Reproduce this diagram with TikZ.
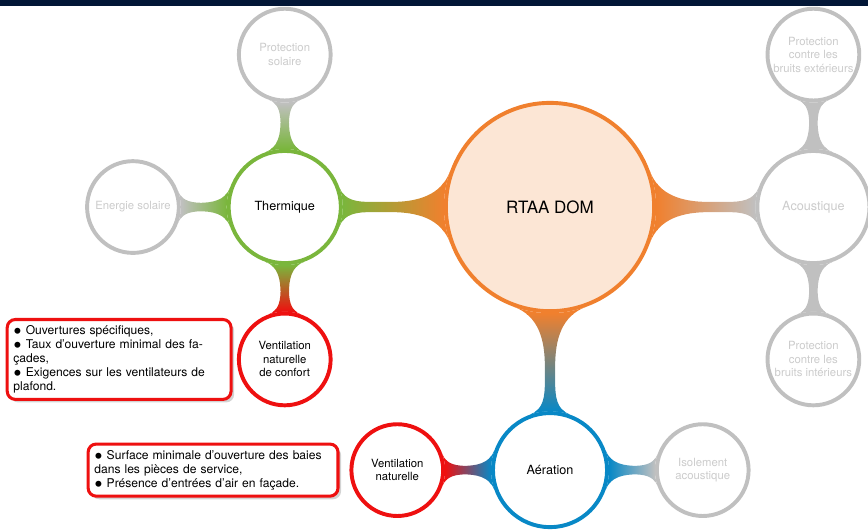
\documentclass[tikz,border=0pt]{standalone}
\usepackage{fontspec}
\setmainfont{TeX Gyre Heros}
\usepackage{amsmath}
\usetikzlibrary{mindmap,shadows,positioning}
\definecolor{rorange}{RGB}{240,128,46}
\definecolor{tgreen}{RGB}{122,182,60}
\definecolor{ablue}{RGB}{8,136,198}
\definecolor{vred}{RGB}{238,16,16}
\definecolor{offgrey}{RGB}{192,192,192}
\definecolor{offtext}{RGB}{204,204,204}
\definecolor{barnavy}{RGB}{2,22,54}
\tikzset{
	idea/.style={circle, draw=#1, fill=white, line width=1.8pt, align=center, inner sep=0pt, text=black, font=\fontsize{5.2}{6.2}\selectfont},
	bigidea/.style={idea=#1, minimum size=1.81cm, font=\fontsize{5.8}{7}\selectfont},
	smallidea/.style={idea=#1, minimum size=1.48cm},
	offidea/.style={smallidea=offgrey, text=offtext},
	notebox/.style={draw=vred, line width=1.4pt, rounded corners=0.13cm, fill=white, drop shadow={opacity=0.35, shadow xshift=0.05cm, shadow yshift=-0.05cm}, align=left, inner sep=0.1cm, font=\fontsize{5.55}{6.4}\selectfont},
}
\begin{document}
\begin{tikzpicture}[node distance=0.75cm and 0.75cm]
	\useasboundingbox (0,0) rectangle (14,-8.548);
	\node [idea=rorange, fill=rorange!20, minimum size=3.36cm, font=\fontsize{7.8}{9}\selectfont] (rtaa_node) at (8.871,-3.339) {RTAA DOM};
	\node [bigidea=tgreen, left=1.63cm of rtaa_node] (thermique_node) {Thermique};
	\node [offidea, above=of thermique_node] (solaire_node) {Protection\\solaire};
	\node [offidea, left=0.74cm of thermique_node] (energie_node) {Energie solaire};
	\node [smallidea=vred, below=of thermique_node] (confort_node) {Ventilation\\naturelle\\de confort};
	\node [bigidea=offgrey, text=offtext, right=1.6cm of rtaa_node] (acoustique_node) {Acoustique};
	\node [offidea, above=of acoustique_node] (exterieur_node) {Protection\\contre les\\bruits extérieurs};
	\node [offidea, below=of acoustique_node] (interieur_node) {Protection\\contre les\\bruits intérieurs};
	\node [bigidea=ablue, minimum size=1.84cm, below=1.58cm of rtaa_node] (aeration_node) {Aération};
	\node [offidea, right=0.74cm of aeration_node] (isolement_node) {Isolement\\acoustique};
	\node [smallidea=vred, left=0.74cm of aeration_node] (naturelle_node) {Ventilation\\naturelle};
	% bars
	\path (rtaa_node) to [circle connection bar switch color=from (rorange) to (tgreen)] (thermique_node);
	\path (rtaa_node) to [circle connection bar switch color=from (rorange) to (offgrey)] (acoustique_node);
	\path (rtaa_node) to [circle connection bar switch color=from (rorange) to (ablue)] (aeration_node);
	\path (thermique_node) to [circle connection bar switch color=from (tgreen) to (offgrey)] (solaire_node);
	\path (thermique_node) to [circle connection bar switch color=from (tgreen) to (offgrey)] (energie_node);
	\path (thermique_node) to [circle connection bar switch color=from (tgreen) to (vred)] (confort_node);
	\path (acoustique_node) to [circle connection bar switch color=from (offgrey) to (offgrey)] (exterieur_node);
	\path (acoustique_node) to [circle connection bar switch color=from (offgrey) to (offgrey)] (interieur_node);
	\path (aeration_node) to [circle connection bar switch color=from (ablue) to (offgrey)] (isolement_node);
	\path (aeration_node) to [circle connection bar switch color=from (ablue) to (vred)] (naturelle_node);
	% notes
	\node [notebox, text width=3.41cm, left=0.07cm of confort_node] (confort_note) {$\bullet$ Ouvertures spécifiques,\\$\bullet$ Taux d'ouverture minimal des fa-\\çades,\\$\bullet$ Exigences sur les ventilateurs de\\plafond.};
	\node [notebox, text width=3.83cm, left=0.16cm of naturelle_node] (naturelle_note) {$\bullet$ Surface minimale d'ouverture des baies\\dans les pièces de service,\\$\bullet$ Présence d'entrées d'air en façade.};
	\fill [barnavy] (0,0) rectangle (14,-0.097);
\end{tikzpicture}
\end{document}
